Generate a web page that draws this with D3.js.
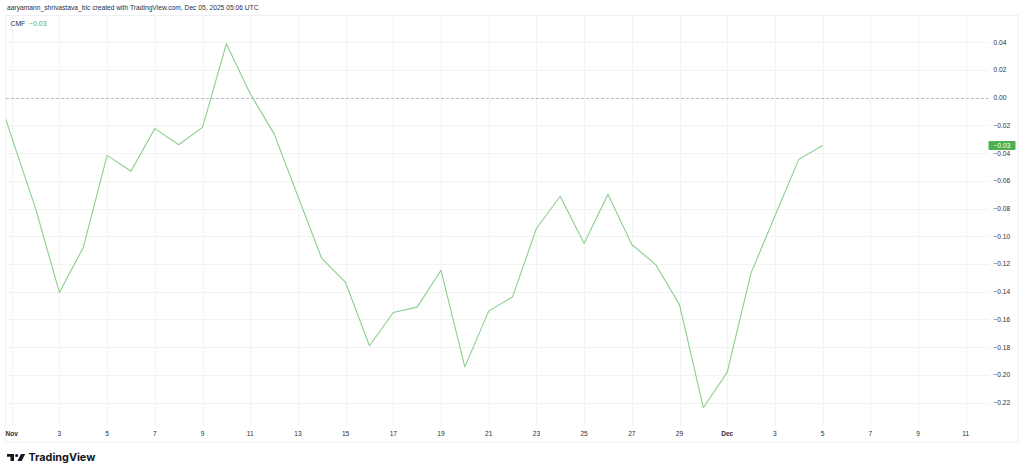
<!DOCTYPE html>
<html>
<head>
<meta charset="utf-8">
<script src="https://cdn.jsdelivr.net/npm/d3@7/dist/d3.min.js"></script>
<style>
  html, body { margin: 0; padding: 0; background: #ffffff; }
  svg { display: block; font-family: "Liberation Sans", Arial, sans-serif; }
</style>
</head>
<body>
<svg id="chart" width="1024" height="476"></svg>
<script>
// ---- data ----
const dates = [
  "2025-10-31","2025-11-01","2025-11-02","2025-11-03","2025-11-04","2025-11-05",
  "2025-11-06","2025-11-07","2025-11-08","2025-11-09","2025-11-10","2025-11-11",
  "2025-11-12","2025-11-13","2025-11-14","2025-11-15","2025-11-16","2025-11-17",
  "2025-11-18","2025-11-19","2025-11-20","2025-11-21","2025-11-22","2025-11-23",
  "2025-11-24","2025-11-25","2025-11-26","2025-11-27","2025-11-28","2025-11-29",
  "2025-11-30","2025-12-01","2025-12-02","2025-12-03","2025-12-04","2025-12-05"
];
const cmfValues = [
  0.0247, -0.0286, -0.0798, -0.1405, -0.1081, -0.0416,
  -0.0531, -0.0223, -0.0339, -0.0214, 0.0389, 0.0029,
  -0.0259, -0.0711, -0.1160, -0.1333, -0.1790, -0.1550,
  -0.1511, -0.1245, -0.1942, -0.1540, -0.1437, -0.0944,
  -0.0711, -0.1052, -0.0697, -0.1059, -0.1204, -0.1493,
  -0.2237, -0.1982, -0.1264, -0.0854, -0.0445, -0.0344
];
const xTickDates = [
  "2025-11-01","2025-11-03","2025-11-05","2025-11-07","2025-11-09","2025-11-11",
  "2025-11-13","2025-11-15","2025-11-17","2025-11-19","2025-11-21","2025-11-23",
  "2025-11-25","2025-11-27","2025-11-29","2025-12-01","2025-12-03","2025-12-05",
  "2025-12-07","2025-12-09","2025-12-11"
];
const xTickLabels = [
  "Nov","3","5","7","9","11","13","15","17","19","21","23",
  "25","27","29","Dec","3","5","7","9","11"
];
const yTicks = [0.04, 0.02, 0.00, -0.02, -0.04, -0.06, -0.08, -0.10, -0.12,
                -0.14, -0.16, -0.18, -0.20, -0.22];
const headerText = "aaryamann_shrivastava_blc created with TradingView.com, Dec 05, 2025 05:06 UTC";
const indicatorName = "CMF";

// ---- layout ----
const plot = { left: 6, right: 988.5, top: 15, bottom: 426 };
const parse = d3.utcParse("%Y-%m-%d");
const fmt = d3.format(".2f");

const x = d3.scaleUtc()
  .domain([parse("2025-11-01"), parse("2025-12-11")])
  .range([11.7, 965.7]);
const y = d3.scaleLinear()
  .domain([0.04, -0.22])
  .range([42.3, 402.6]);

const svg = d3.select("#chart");

// frame
svg.append("rect")
  .attr("x", 5.5).attr("y", 15.5).attr("width", 1012.5).attr("height", 426.5)
  .attr("fill", "none").attr("stroke", "#eef0f4").attr("stroke-width", 1);

// header
svg.append("text")
  .attr("x", 7).attr("y", 10.3)
  .attr("font-size", 6.7).attr("fill", "#2a2e39")
  .text(headerText);

// clip
svg.append("clipPath").attr("id", "plotClip")
  .append("rect")
  .attr("x", plot.left).attr("y", plot.top)
  .attr("width", plot.right - plot.left).attr("height", plot.bottom - plot.top);

const grid = svg.append("g");
// horizontal grid
grid.selectAll("line.h")
  .data(yTicks.filter(v => v !== 0))
  .join("line")
  .attr("x1", plot.left).attr("x2", plot.right)
  .attr("y1", d => Math.round(y(d)) + 0.5).attr("y2", d => Math.round(y(d)) + 0.5)
  .attr("stroke", "#f2f3f5").attr("stroke-width", 1);
// vertical grid
grid.selectAll("line.v")
  .data(xTickDates)
  .join("line")
  .attr("x1", d => Math.round(x(parse(d))) + 0.5).attr("x2", d => Math.round(x(parse(d))) + 0.5)
  .attr("y1", plot.top).attr("y2", plot.bottom)
  .attr("stroke", "#f2f3f5").attr("stroke-width", 1);

// zero dashed line
svg.append("line")
  .attr("x1", plot.left).attr("x2", plot.right)
  .attr("y1", Math.round(y(0)) + 0.5).attr("y2", Math.round(y(0)) + 0.5)
  .attr("stroke", "#b7b9c0").attr("stroke-width", 1)
  .attr("stroke-dasharray", "3,2");

// CMF line
const series = dates.map((d, i) => ({ date: parse(d), value: cmfValues[i] }));
const line = d3.line().x(d => x(d.date)).y(d => y(d.value));
svg.append("path")
  .datum(series)
  .attr("clip-path", "url(#plotClip)")
  .attr("d", line)
  .attr("fill", "none")
  .attr("stroke", "#8bce8e")
  .attr("stroke-width", 1.1)
  .attr("stroke-linejoin", "round");

// y axis labels
svg.append("g").selectAll("text")
  .data(yTicks)
  .join("text")
  .attr("x", 993.5)
  .attr("y", d => y(d) + 2.4)
  .attr("font-size", 6.6)
  .attr("fill", "#2a2e39")
  .text(d => fmt(d));

// last value badge
const last = series[series.length - 1];
const by = y(last.value);
svg.append("rect")
  .attr("x", 988.5).attr("y", by - 4.5).attr("width", 27).attr("height", 9)
  .attr("rx", 1).attr("fill", "#4caf50");
svg.append("text")
  .attr("x", 1002).attr("y", by + 2.4)
  .attr("text-anchor", "middle")
  .attr("font-size", 6.6).attr("fill", "#ffffff")
  .text(fmt(last.value));

// x axis labels
svg.append("g").selectAll("text")
  .data(xTickDates)
  .join("text")
  .attr("x", d => x(parse(d)))
  .attr("y", 436.4)
  .attr("text-anchor", "middle")
  .attr("font-size", 6.6)
  .attr("font-weight", (d, i) => (xTickLabels[i] === "Nov" || xTickLabels[i] === "Dec") ? 700 : 400)
  .attr("fill", "#2a2e39")
  .text((d, i) => xTickLabels[i]);

// legend
const leg = svg.append("text").attr("x", 10.5).attr("y", 25.5).attr("font-size", 6.8);
leg.append("tspan").attr("fill", "#2a2e39").text(indicatorName);
leg.append("tspan").attr("dx", 4).attr("fill", "#4caf50").text(fmt(last.value));

// TradingView logo
const logo = svg.append("g").attr("transform", "translate(7,454)");
logo.append("path")
  .attr("d", "M0 0 H7 V7 H3.5 V2.8 H0 Z")
  .attr("fill", "#131722");
logo.append("circle").attr("cx", 9.6).attr("cy", 1.5).attr("r", 1.5).attr("fill", "#131722");
logo.append("path")
  .attr("d", "M14 0 H18.2 L14.6 7 H10.4 Z")
  .attr("fill", "#131722");
svg.append("text")
  .attr("x", 28.5).attr("y", 461.3)
  .attr("font-size", 10.8).attr("font-weight", 700)
  .attr("fill", "#131722")
  .attr("font-family", "Inter, 'Liberation Sans', sans-serif")
  .text("TradingView");
</script>
</body>
</html>
